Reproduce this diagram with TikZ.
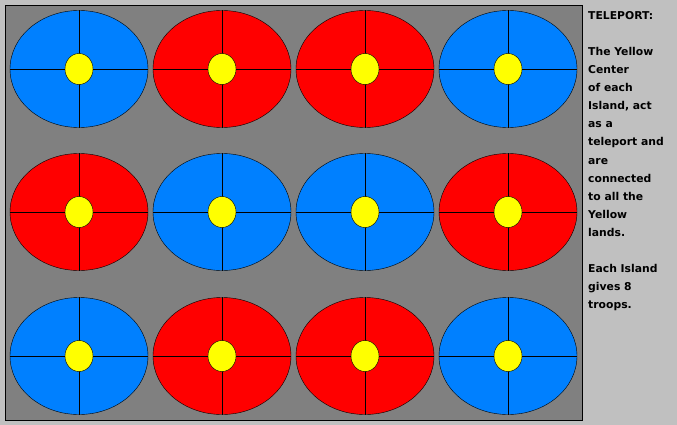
\documentclass[tikz,border=0pt]{standalone}
\usepackage{fontspec}
\setmainfont{DejaVu Sans}
\usetikzlibrary{
  shapes.geometric,%
  positioning
}
\definecolor{panelgrey}{HTML}{C0C0C0}
\definecolor{boardgrey}{HTML}{808080}
\definecolor{islandblue}{HTML}{0080FF}
\definecolor{islandred}{HTML}{FF0000}
\definecolor{teleyellow}{HTML}{FFFF00}
\tikzset{line width=1pt}
\tikzset{island/.style={ellipse, draw=black, inner sep=0pt,
    minimum width=138pt, minimum height=117pt}}
\tikzset{teleport/.style={ellipse, draw=black, fill=teleyellow, inner sep=0pt,
    minimum width=28pt, minimum height=31pt}}
\tikzset{rules/.style={align=left, inner sep=0pt, anchor=north west,
    font=\fontsize{10.8}{18.1}\selectfont\bfseries}}

\begin{document}
\begin{tikzpicture}[x=1pt,y=-1pt]
          \fill[panelgrey] (0,0) rectangle (677,425);
          \draw[fill=boardgrey] (5,5) rectangle (582,420);
          % the twelve islands
          \foreach \x/\y/\clr [count=\n] in {79/69/islandblue, 222/69/islandred,
              365/69/islandred, 508/69/islandblue, 79/212/islandred,
              222/212/islandblue, 365/212/islandblue, 508/212/islandred,
              79/356/islandblue, 222/356/islandred, 365/356/islandred,
              508/356/islandblue} {
            \node[island, fill=\clr] (isl\n) at (\x,\y) {};
            \draw (isl\n.west) -- (isl\n.east);
            \draw (isl\n.north) -- (isl\n.south);
            \node[teleport] (tp\n) at (isl\n.center) {};
          }
          \node[rules] (info) at (588,11) {TELEPORT:\\[18.1pt]
            The Yellow\\ Center\\ of each\\ Island, act\\ as a\\ teleport and\\
            are\\ connected\\ to all the\\ Yellow\\ lands.\\[18.1pt]
            Each Island\\ gives 8\\ troops.};
        \end{tikzpicture}
\end{document}
